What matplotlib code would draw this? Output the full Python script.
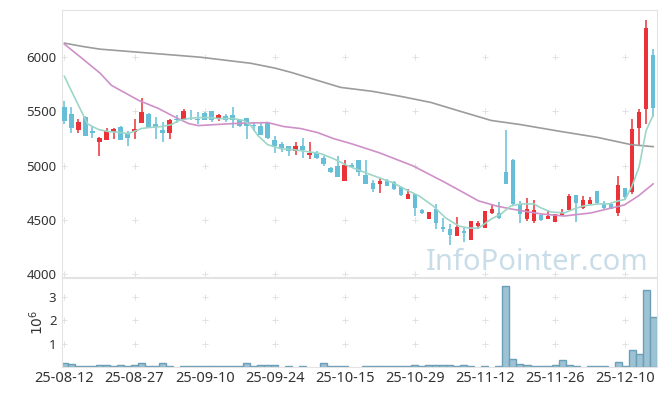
import numpy as np
import matplotlib
matplotlib.use('Agg')
import matplotlib.pyplot as plt

plt.rcParams['font.family'] = ['Noto Sans', 'DejaVu Sans']

# x tick labels, one every 10 trading days
tick_labels = ['25-08-12', '25-08-27', '25-09-10', '25-09-24', '25-10-15',
               '25-10-29', '25-11-12', '25-11-26', '25-12-10']

# daily candles (trading day index 0..84)
opens = [5537, 5481, 5327, 5450, 5321, 5216, 5241, 5309, 5361, 5290,
         5309, 5392, 5481, 5389, 5333, 5299, 5435, 5420, 5441, 5435,
         5488, 5509, 5438, 5454, 5472, 5426, 5441, 5373, 5370, 5392,
         5241, 5201, 5179, 5133, 5185, 5096, 5120, 5068, 4975, 5000,
         4864, 5009, 5056, 4917, 4843, 4836, 4858, 4849, 4802, 4697,
         4737, 4593, 4512, 4605, 4432, 4417, 4355, 4401, 4318, 4444,
         4429, 4568, 4565, 4938, 5056, 4645, 4512, 4491, 4549, 4512,
         4484, 4549, 4593, 4731, 4608, 4651, 4768, 4660, 4651, 4568,
         4793, 4762, 5346, 5519, 6017]
highs = [5593, 5537, 5432, 5455, 5358, 5262, 5346, 5345, 5364, 5321,
         5435, 5626, 5485, 5448, 5404, 5430, 5463, 5519, 5512, 5494,
         5494, 5509, 5478, 5478, 5540, 5430, 5444, 5401, 5407, 5407,
         5278, 5222, 5182, 5216, 5256, 5216, 5136, 5093, 4988, 5093,
         5050, 5025, 5056, 5052, 4870, 4883, 4877, 4855, 4805, 4790,
         4740, 4602, 4577, 4645, 4515, 4460, 4528, 4423, 4494, 4491,
         4586, 4645, 4667, 5330, 5059, 4676, 4701, 4685, 4552, 4590,
         4555, 4599, 4738, 4734, 4722, 4710, 4771, 4676, 4654, 4907,
         4796, 5432, 5519, 6343, 6080]
lows = [5389, 5302, 5302, 5275, 5259, 5090, 5235, 5247, 5238, 5185,
        5247, 5392, 5346, 5247, 5216, 5247, 5395, 5420, 5420, 5386,
        5417, 5401, 5414, 5407, 5352, 5360, 5247, 5321, 5284, 5250,
        5114, 5130, 5086, 5102, 5071, 5062, 5062, 4994, 4929, 4895,
        4864, 4985, 4907, 4833, 4762, 4753, 4815, 4780, 4725, 4694,
        4537, 4552, 4509, 4413, 4392, 4268, 4352, 4299, 4315, 4413,
        4426, 4552, 4512, 4833, 4642, 4469, 4491, 4475, 4494, 4509,
        4481, 4546, 4590, 4484, 4605, 4648, 4651, 4599, 4602, 4537,
        4682, 4738, 5185, 5386, 5448]
closes = [5410, 5346, 5407, 5278, 5299, 5259, 5321, 5342, 5241, 5253,
          5342, 5494, 5349, 5358, 5306, 5426, 5420, 5509, 5432, 5420,
          5423, 5420, 5463, 5426, 5420, 5364, 5364, 5364, 5287, 5253,
          5185, 5164, 5133, 5185, 5145, 5120, 5074, 5012, 4938, 4898,
          5009, 4991, 4941, 4836, 4790, 4855, 4818, 4784, 4728, 4744,
          4614, 4562, 4574, 4475, 4420, 4361, 4435, 4377, 4491, 4472,
          4583, 4599, 4515, 4836, 4645, 4552, 4599, 4590, 4503, 4537,
          4552, 4577, 4722, 4660, 4682, 4682, 4654, 4608, 4605, 4824,
          4713, 5334, 5491, 6265, 5531]

# volume in millions of shares
volume = [0.16, 0.11, 0.04, 0.04, 0.04, 0.08, 0.08, 0.04, 0.08, 0.04,
          0.08, 0.16, 0.04, 0.04, 0.16, 0.04, 0.0, 0.04, 0.04, 0.04,
          0.04, 0.04, 0.04, 0.04, 0.04, 0.04, 0.16, 0.04, 0.08, 0.08,
          0.08, 0.0, 0.04, 0.0, 0.04, 0.0, 0.0, 0.16, 0.04, 0.04,
          0.04, 0.0, 0.0, 0.04, 0.04, 0.04, 0.04, 0.04, 0.04, 0.04,
          0.08, 0.04, 0.08, 0.08, 0.08, 0.08, 0.04, 0.08, 0.04, 0.0,
          0.04, 0.0, 0.04, 3.45, 0.33, 0.11, 0.08, 0.04, 0.04, 0.04,
          0.08, 0.28, 0.08, 0.04, 0.0, 0.04, 0.04, 0.04, 0.0, 0.20,
          0.04, 0.71, 0.55, 3.28, 2.13]

# moving averages (index, price)
ma5_x = [0, 0.6, 2, 3.3, 4.9, 6.3, 8.1, 9.1, 11, 12, 13.9, 15.3, 16.3, 17.7,
         19.1, 20.6, 21.9, 24.1, 25.6, 26.6, 27.6, 29, 30.9, 32.7, 34.7, 36.6,
         38.4, 40.4, 43, 44.9, 46.9, 49.1, 50.6, 52.6, 54.4, 56.3, 57.7, 59.1,
         60.9, 62.3, 63.7, 65.1, 67, 68, 69.4, 71.3, 72.7, 74.1, 76.1, 77.6,
         79, 80, 81, 82, 83, 84]
ma5_y = [5824, 5741, 5556, 5385, 5333, 5315, 5306, 5296, 5343, 5352, 5361,
         5380, 5417, 5435, 5444, 5444, 5435, 5435, 5417, 5370, 5278, 5194,
         5157, 5148, 5130, 5111, 5065, 5000, 4935, 4889, 4843, 4768, 4722,
         4630, 4519, 4444, 4426, 4426, 4509, 4556, 4630, 4648, 4648, 4611,
         4574, 4565, 4602, 4630, 4648, 4648, 4676, 4690, 4815, 4990, 5325,
         5465]
ma20_x = [0, 2.5, 5.1, 6.7, 10.6, 13.4, 15.9, 17.7, 19.1, 24.1, 29, 31.3,
          33.7, 36.1, 38.4, 40.9, 44.9, 49.7, 54.4, 59.1, 61.6, 63.7, 68,
          71.3, 75.1, 79.9, 81.9, 84]
ma20_y = [6120, 5990, 5852, 5741, 5602, 5528, 5444, 5389, 5370, 5389, 5398,
          5361, 5343, 5306, 5250, 5204, 5120, 5000, 4843, 4676, 4630, 4602,
          4556, 4537, 4565, 4639, 4722, 4833]
ma60_x = [0, 2.5, 5.1, 12.3, 19.4, 26.6, 30, 32.3, 35.1, 39.4, 44, 48, 52.3,
          56.1, 60.9, 65, 70.9, 76, 80.9, 84]
ma60_y = [6130, 6100, 6074, 6037, 6000, 5944, 5900, 5861, 5806, 5722, 5685,
          5639, 5583, 5509, 5417, 5380, 5315, 5262, 5194, 5176]

x = np.arange(len(closes))
o = np.array(opens)
c = np.array(closes)
up = c >= o
colors = np.where(up, '#ea3339', '#66bed7')

fig = plt.figure(figsize=(6.65, 3.96), dpi=100)
ax1 = fig.add_axes([62 / 665, 1 - 277 / 396, 595 / 665, 267 / 396])
ax2 = fig.add_axes([62 / 665, 1 - 367 / 396, 595 / 665, 89 / 396])

xticks = np.arange(0, 81, 10)

# candles
ax1.vlines(x, lows, highs, colors=colors, lw=1.1, zorder=2)
body = np.maximum(np.abs(c - o), 6)
ax1.bar(x, body, bottom=np.minimum(o, c), width=0.66, color=colors, zorder=3)

ax1.plot(ma60_x, ma60_y, color='#9c9c9c', lw=1.2, zorder=4)
ax1.plot(ma20_x, ma20_y, color='#cf90c8', lw=1.2, zorder=4)
ax1.plot(ma5_x, ma5_y, color='#9dd6c9', lw=1.2, zorder=4)

ax1.set_xlim(-0.35, 84.55)
ax1.set_ylim(3975, 6435)
ax1.set_yticks([4000, 4500, 5000, 5500, 6000])
ax1.set_xticks(xticks)
ax1.tick_params(axis='x', labelbottom=False, length=3, color='#dddddd')
ax1.tick_params(axis='y', length=0, labelsize=9.5, labelcolor='#333333', pad=4)
gx, gy = np.meshgrid(xticks, [4000, 4500, 5000, 5500, 6000])
ax1.scatter(gx.ravel(), gy.ravel(), marker='+', s=14, color='#e2e2e2',
            linewidths=0.7, zorder=1)
ax1.text(0.986, 0.0, 'InfoPointer.com', transform=ax1.transAxes,
         ha='right', va='bottom', fontsize=21, color='#c9dde8', zorder=0)

# volume
vol = np.array(volume)
nz = vol > 0
ax2.bar(x[nz], vol[nz], width=1.0, color='#9cc2d4', edgecolor='#6b9fb7',
        lw=1, zorder=2)
ax2.set_xlim(-0.35, 84.55)
ax2.set_ylim(0, 3.8)
ax2.set_yticks([1, 2, 3])
ax2.set_xticks(xticks)
ax2.set_xticklabels(tick_labels)
ax2.tick_params(axis='x', length=0, labelsize=10.5, labelcolor='#333333', pad=3)
ax2.tick_params(axis='y', length=0, labelsize=9.5, labelcolor='#333333', pad=4)
ax2.set_ylabel('$10^6$', fontsize=10, color='#333333', labelpad=1)
gx, gy = np.meshgrid(xticks, [1, 2, 3])
ax2.scatter(gx.ravel(), gy.ravel(), marker='+', s=14, color='#e2e2e2',
            linewidths=0.7, zorder=1)

for ax in (ax1, ax2):
    for s in ax.spines.values():
        s.set_color('#e3e3e3')

fig.savefig('out.png', dpi=100)
